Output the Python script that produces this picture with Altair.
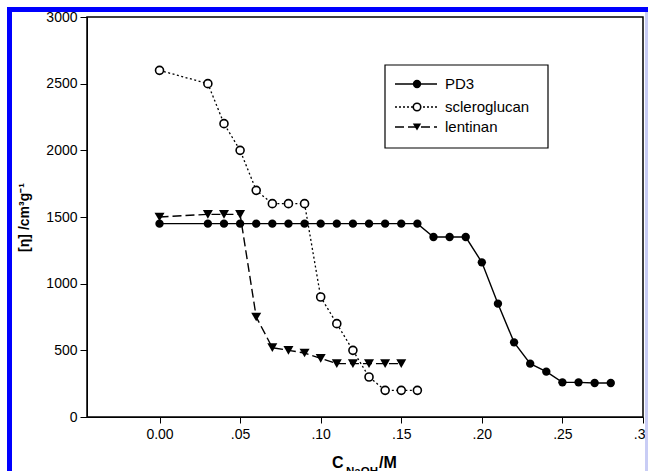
import altair as alt
import pandas as pd

# ---- data ----
pd3_x = [0.00, 0.03, 0.04, 0.05, 0.06, 0.07, 0.08, 0.09, 0.10, 0.11, 0.12, 0.13, 0.14, 0.15,
         0.16, 0.17, 0.18, 0.19, 0.20, 0.21, 0.22, 0.23, 0.24, 0.25, 0.26, 0.27, 0.28]
pd3_y = [1450, 1450, 1450, 1450, 1450, 1450, 1450, 1450, 1450, 1450, 1450, 1450, 1450, 1450,
         1450, 1350, 1350, 1350, 1160, 850, 560, 400, 340, 260, 260, 255, 255]

scl_x = [0.00, 0.03, 0.04, 0.05, 0.06, 0.07, 0.08, 0.09, 0.10, 0.11, 0.12, 0.13, 0.14, 0.15, 0.16]
scl_y = [2600, 2500, 2200, 2000, 1700, 1600, 1600, 1600, 900, 700, 500, 300, 200, 200, 200]

len_x = [0.00, 0.03, 0.04, 0.05, 0.06, 0.07, 0.08, 0.09, 0.10, 0.11, 0.12, 0.13, 0.14, 0.15]
len_y = [1500, 1520, 1520, 1520, 750, 520, 500, 480, 440, 400, 400, 400, 400, 400]

series_names = ["PD3", "scleroglucan", "lentinan"]
x_ticks = [0.0, 0.05, 0.10, 0.15, 0.20, 0.25, 0.30]
y_ticks = [0, 500, 1000, 1500, 2000, 2500, 3000]

FONT = "Liberation Sans"
W, H = 556, 400

pd3 = pd.DataFrame({"x": pd3_x, "y": pd3_y})
scl = pd.DataFrame({"x": scl_x, "y": scl_y})
lent = pd.DataFrame({"x": len_x, "y": len_y})
one = pd.DataFrame({"a": [0]})

xs = alt.Scale(domain=[-0.045, 0.30], nice=False, zero=False)
ys = alt.Scale(domain=[0, 3000], nice=False)

xenc = alt.X("x:Q", scale=xs, axis=alt.Axis(
    values=x_ticks, title=None, grid=False,
    labelExpr="datum.value == 0 ? '0.00' : slice(format(datum.value, '.2f'), 1)",
    tickSize=6, labelPadding=4, labelFontSize=14, labelFont=FONT, labelColor="black",
    domainColor="black", tickColor="black", labelFlush=False))
yenc = alt.Y("y:Q", scale=ys, axis=alt.Axis(
    values=y_ticks, title="[η] /cm³g⁻¹", grid=False, format="d",
    tickSize=7, labelPadding=3, labelFontSize=14, labelFont=FONT, labelColor="black",
    domainColor="black", tickColor="black", titleFont=FONT, titleFontSize=14,
    titleFontWeight="bold", titleColor="black", titlePadding=14))

pd3_line = alt.Chart(pd3).mark_line(color="black", strokeWidth=1.4).encode(x=xenc, y=yenc)
pd3_pts = alt.Chart(pd3).mark_point(shape="circle", filled=True, color="black", size=70,
                                    opacity=1).encode(x="x:Q", y="y:Q")

scl_line = alt.Chart(scl).mark_line(color="black", strokeWidth=1.3, strokeDash=[2, 2.5]).encode(
    x="x:Q", y="y:Q")
scl_pts = alt.Chart(scl).mark_point(shape="circle", filled=False, fill="white", stroke="black",
                                    strokeWidth=1.6, size=64, opacity=1).encode(x="x:Q", y="y:Q")

len_line = alt.Chart(lent).mark_line(color="black", strokeWidth=1.4, strokeDash=[9, 4]).encode(
    x="x:Q", y="y:Q")
len_pts = alt.Chart(lent).mark_point(shape="triangle-down", filled=True, color="black", size=100,
                                     opacity=1).encode(x="x:Q", y="y:Q")

# ---- custom legend ----
legend_box = alt.Chart(one).mark_rect(fill="white", stroke="black", strokeWidth=1.2).encode(
    x=alt.value(298), x2=alt.value(461), y=alt.value(48), y2=alt.value(131))
leg_rows = [(67, None, "circle", True, series_names[0]),
            (90, [2, 2], "circle", False, series_names[1]),
            (110, [9, 4], "triangle-down", True, series_names[2])]
leg_layers = [legend_box]
for yy, dash, shp, filled, name in leg_rows:
    kw = {"strokeDash": dash} if dash else {}
    leg_layers.append(alt.Chart(one).mark_rule(color="black", strokeWidth=1.4, **kw).encode(
        x=alt.value(308), x2=alt.value(350), y=alt.value(yy)))
    if filled:
        pm = alt.Chart(one).mark_point(shape=shp, filled=True, color="black", size=70, opacity=1)
    else:
        pm = alt.Chart(one).mark_point(shape=shp, filled=False, fill="white", stroke="black",
                                       strokeWidth=1.6, size=56, opacity=1)
    leg_layers.append(pm.encode(x=alt.value(330), y=alt.value(yy)))
    leg_layers.append(alt.Chart(one).mark_text(text=name, align="left", baseline="middle",
                                               font=FONT, fontSize=15, color="black").encode(
        x=alt.value(358), y=alt.value(yy)))

# ---- x-axis title with subscript ----
t1 = alt.Chart(one).mark_text(text="C", align="left", baseline="alphabetic", font=FONT,
                              fontSize=16, fontWeight="bold", color="black").encode(
    x=alt.value(245), y=alt.value(451))
t2 = alt.Chart(one).mark_text(text="NaOH", align="left", baseline="alphabetic", font=FONT,
                              fontSize=11.5, fontWeight="bold", color="black").encode(
    x=alt.value(259), y=alt.value(458))
t3 = alt.Chart(one).mark_text(text="/M", align="left", baseline="alphabetic", font=FONT,
                              fontSize=16, fontWeight="bold", color="black").encode(
    x=alt.value(292), y=alt.value(451))

# ---- blue frame of the picture ----
blue_top = alt.Chart(one).mark_rule(color="#0000ff", strokeWidth=5).encode(
    x=alt.value(-80), x2=alt.value(561), y=alt.value(-7.5))
blue_left = alt.Chart(one).mark_rule(color="#0000ff", strokeWidth=5).encode(
    x=alt.value(-77.5), y=alt.value(-10), y2=alt.value(454))
blue_right = alt.Chart(one).mark_rule(color="#c9cdf5", strokeWidth=3).encode(
    x=alt.value(559.5), y=alt.value(-5), y2=alt.value(454))

chart = alt.layer(
    pd3_line, scl_line, len_line, pd3_pts, scl_pts, len_pts,
    *leg_layers, t1, t2, t3, blue_top, blue_left, blue_right
).properties(
    width=W, height=H,
    autosize=alt.AutoSizeParams(type="none"),
    padding={"left": 87, "top": 17, "right": 5, "bottom": 54},
    background="white",
).configure_view(stroke="black", strokeWidth=1.5)

chart.save("out.html", embed_options={"renderer": "svg", "actions": False})
